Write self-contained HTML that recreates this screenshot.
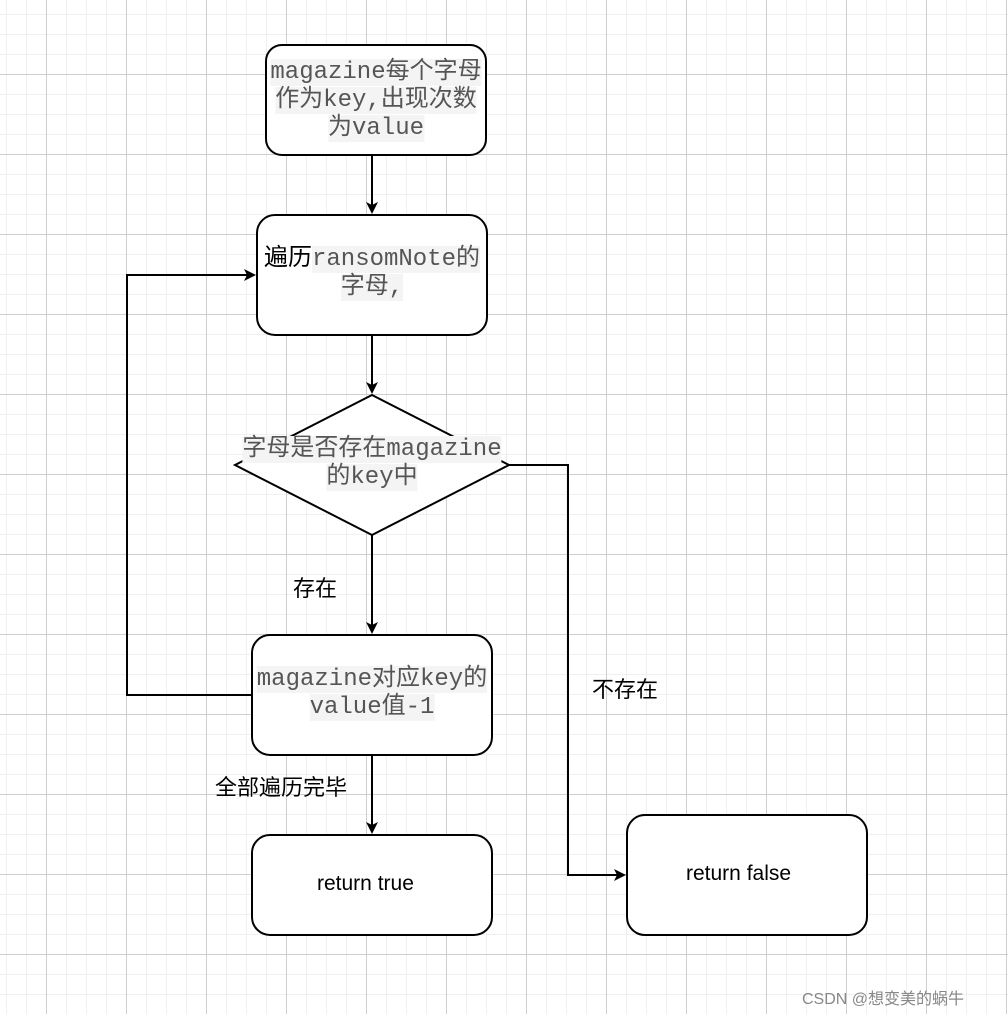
<!DOCTYPE html>
<html><head><meta charset="utf-8"><style>
html,body{margin:0;padding:0;background:#fff;}
body{width:1008px;height:1014px;position:relative;overflow:hidden;
background-image:
linear-gradient(to right,#cfcfcf 1px,transparent 1px),
linear-gradient(to bottom,#cfcfcf 1px,transparent 1px),
linear-gradient(to right,#f0f0f0 1px,transparent 1px),
linear-gradient(to bottom,#f0f0f0 1px,transparent 1px);
background-size:80px 80px,80px 80px,20px 20px,20px 20px;
background-position:46px 74px,46px 74px,6px 14px,6px 14px;}
svg{position:absolute;left:0;top:0;}
.t{position:absolute;text-align:center;font-family:"Liberation Mono","Noto Sans CJK SC",monospace;font-size:24px;line-height:28px;color:#555;white-space:nowrap;transform:translateX(-50%);}
.t span{background:#f4f4f4;}
.l{position:absolute;font-family:"Liberation Sans","Noto Sans CJK SC",sans-serif;font-size:22px;color:#000;white-space:nowrap;}
</style></head><body>
<svg width="1008" height="1014">
<defs><marker id="a" markerWidth="12" markerHeight="12" refX="10" refY="6" orient="auto" markerUnits="userSpaceOnUse"><path d="M0,0 L12,6 L0,12 L3,6 Z" fill="#000"/></marker></defs>
<g fill="#fff" stroke="#000" stroke-width="2">
<rect x="266" y="45" width="220" height="110" rx="16"/>
<rect x="257" y="215" width="230" height="120" rx="18"/>
<polygon points="372,395 509,465 372,535 235,465"/>
<rect x="252" y="635" width="240" height="120" rx="18"/>
<rect x="252" y="835" width="240" height="100" rx="18"/>
<rect x="627" y="815" width="240" height="120" rx="18"/>
</g>
<g fill="none" stroke="#000" stroke-width="2">
<line x1="372" y1="155" x2="372" y2="212" marker-end="url(#a)"/>
<line x1="372" y1="335" x2="372" y2="392" marker-end="url(#a)"/>
<line x1="372" y1="535" x2="372" y2="632" marker-end="url(#a)"/>
<line x1="372" y1="755" x2="372" y2="832" marker-end="url(#a)"/>
<polyline points="252,695 127,695 127,275 254,275" marker-end="url(#a)"/>
<polyline points="509,465 568,465 568,875 624,875" marker-end="url(#a)"/>
</g>
</svg>
<div class="t" style="left:376px;top:59px"><span>magazine每个字母</span><br><span>作为key,出现次数</span><br><span>为value</span></div>
<div class="t" style="left:372px;top:246px;color:#000"><span style="background:none">遍历</span><span style="color:#555">ransomNote的</span><br><span style="color:#555">字母, </span></div>
<div class="t" style="left:372px;top:436px"><span>字母是否存在magazine</span><br><span>的key中</span></div>
<div class="t" style="left:372px;top:666px"><span>magazine对应key的</span><br><span>value值-1</span></div>
<div class="l" style="left:293px;top:571px">存在</div>
<div class="l" style="left:592px;top:672px">不存在</div>
<div class="l" style="left:215px;top:770px">全部遍历完毕</div>
<div class="l" style="left:317px;top:872px;font-size:21px">return true</div>
<div class="l" style="left:686px;top:862px;font-size:21px">return false</div>
<div class="l" style="left:802px;top:985px;font-size:16px;color:#888">CSDN @想变美的蜗牛</div>
</body></html>
